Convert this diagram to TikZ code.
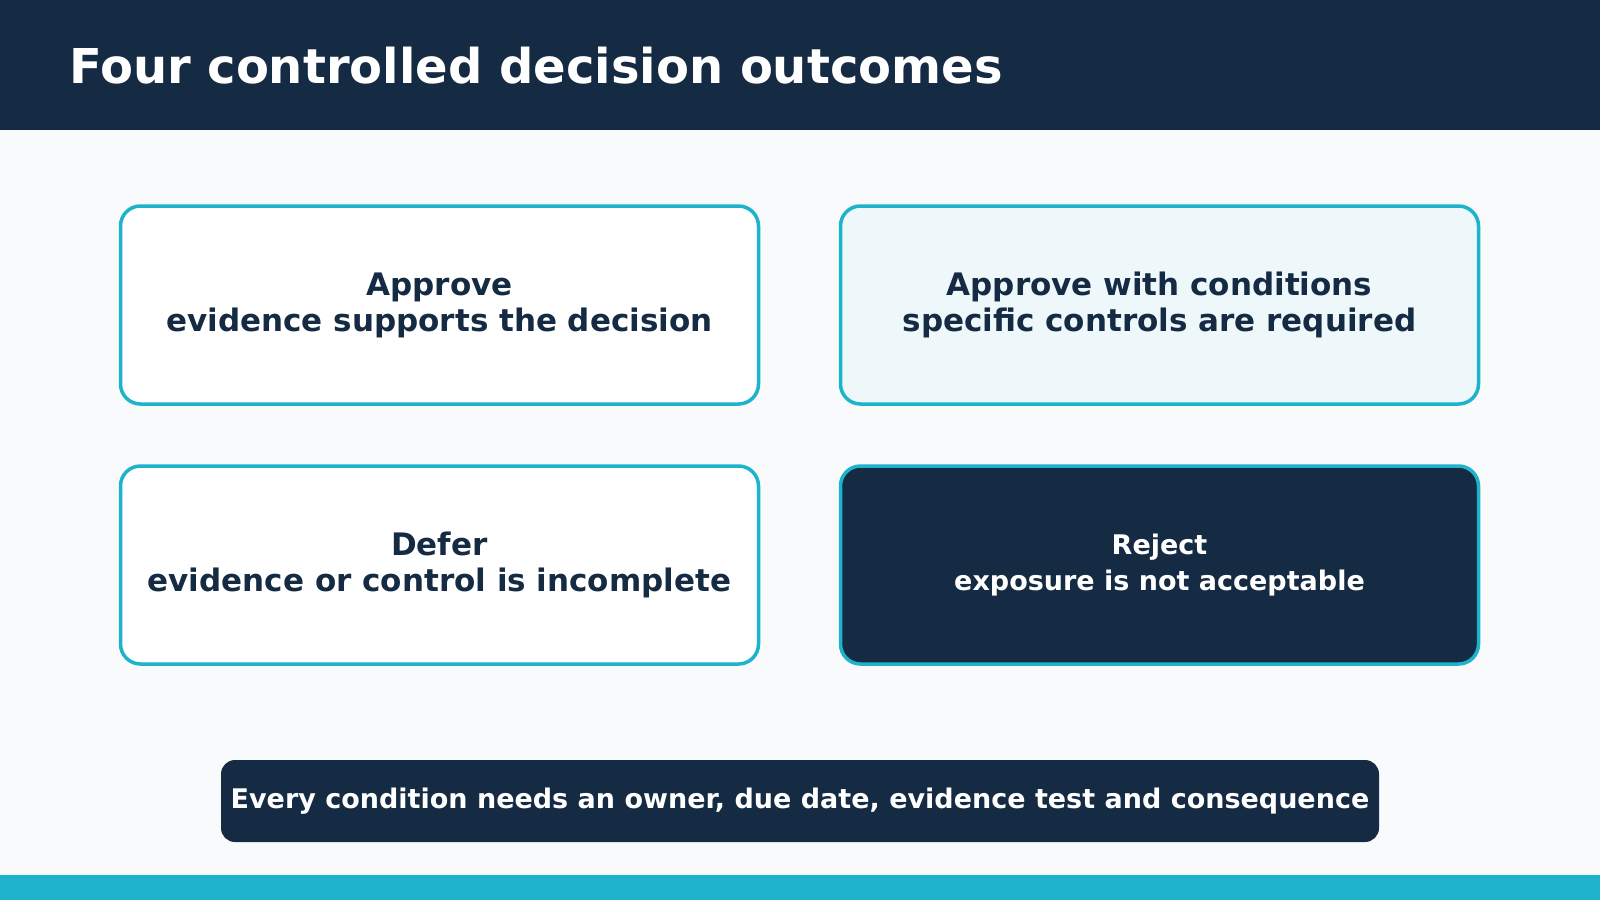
\documentclass[tikz,border=0pt]{standalone}
\usepackage{fontspec}
\setmainfont{DejaVu Sans}
\usetikzlibrary{positioning}

\definecolor{navy}{HTML}{152A43}
\definecolor{teal}{HTML}{1CB3CB}
\definecolor{paper}{HTML}{F8FAFC}
\definecolor{tint}{HTML}{EEF7FA}

\begin{document}
\begin{tikzpicture}[x=1pt,y=-1pt,
    outcome/.style={draw=teal,line width=3.5pt,rounded corners=20pt,
      minimum width=638pt,minimum height=198pt,inner sep=0pt,
      align=center,font=\bfseries\fontsize{31}{36}\selectfont,text=navy},
    note/.style={fill=navy,rounded corners=14pt,minimum width=1158pt,
      minimum height=82pt,inner sep=0pt,text=white,
      font=\bfseries\fontsize{27}{30}\selectfont}]
  \useasboundingbox (0,0) rectangle (1600,900);
  \fill[paper] (0,0) rectangle (1600,900);
  \fill[navy] (0,0) rectangle (1600,130);
  \fill[teal] (0,875) rectangle (1600,900);
  \node[anchor=west,text=white,inner sep=0pt,
        font=\bfseries\fontsize{48}{56}\selectfont] (title) at (69,66)
    {Four controlled decision outcomes};
  % the four outcomes
  \node[outcome,fill=white] (approve) at (439.5,305)
    {Approve\\evidence supports the decision};
  \node[outcome,fill=tint] (cond) at (1159.5,305)
    {Approve with conditions\\specific controls are required};
  \node[outcome,fill=white] (defer) at (439.5,565)
    {Defer\\evidence or control is incomplete};
  \node[outcome,fill=navy,text=white,
        font=\bfseries\fontsize{27}{36}\selectfont] (reject) at (1159.5,565)
    {Reject\\exposure is not acceptable};
  \node[note] (rule) at (800,801)
    {Every condition needs an owner, due date, evidence test and consequence};
\end{tikzpicture}
\end{document}
